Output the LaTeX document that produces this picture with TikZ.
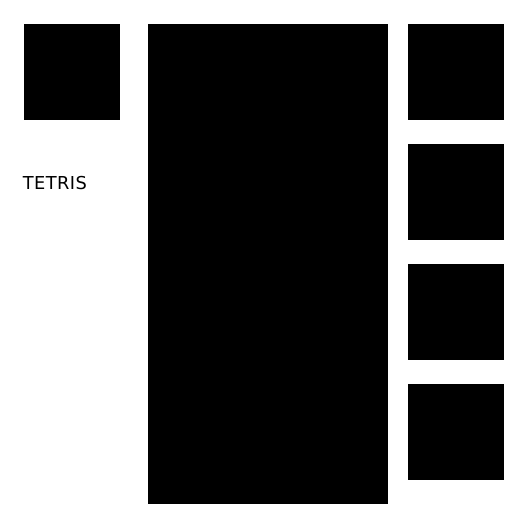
\documentclass[tikz,border=0pt]{standalone}
\usepackage{fontspec}
\setmainfont{DejaVu Sans}
\begin{document}
\begin{tikzpicture}[x=1pt,y=-1pt,
  block/.style={fill=black,draw=none},
  label/.style={anchor=base west,inner sep=0pt,font=\fontsize{17.8}{20}\selectfont\addfontfeature{LetterSpace=2.5}}]
\useasboundingbox (0,0) rectangle (528,528);
\fill[block] (24,24) rectangle (120,120);
\fill[block] (148,24) rectangle (388,504);
\fill[block] (408,24) rectangle (504,120);
\fill[block] (408,144) rectangle (504,240);
\fill[block] (408,264) rectangle (504,360);
\fill[block] (408,384) rectangle (504,480);
\node[label] (title) at (22.6,189) {TETRIS};
\end{tikzpicture}
\end{document}
